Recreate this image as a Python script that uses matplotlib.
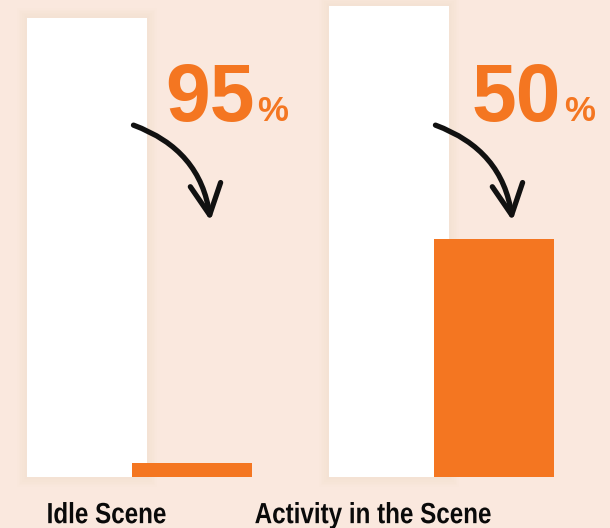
import matplotlib
matplotlib.use("Agg")
import matplotlib.pyplot as plt
import numpy as np
from matplotlib.textpath import TextPath
from matplotlib.patches import PathPatch
from matplotlib.font_manager import FontProperties
import matplotlib.transforms as mtransforms

categories = ["Idle Scene", "Activity in the Scene"]
baseline_values = [97.5, 100.0]
reduced_values = [3.0, 50.5]
reduction_labels = ["95", "50"]

BG = "#FAE8DE"
ORANGE = "#F47621"

fig = plt.figure(figsize=(6.10, 5.28), dpi=100, facecolor=BG)
ax = fig.add_axes([0, 0, 1, 1])
ax.set_facecolor(BG)
ax.set_xlim(-0.462, 1.558)
ax.set_ylim(-10.83, 101.27)
ax.axis("off")

x = np.arange(len(categories))
off = 0.174
w = 0.397

# soft shadow around white bars
for xi, v in zip(x, baseline_values):
    for k in range(1, 7):
        pad_x = k * 0.0055
        pad_y = k * 0.35
        ax.add_patch(plt.Rectangle((xi - off - w / 2 - pad_x, -pad_y), w + 2 * pad_x, v + 2 * pad_y,
                                   facecolor="#d9b7a3", edgecolor="none", alpha=0.02, zorder=1))

ax.bar(x - off, baseline_values, width=w, color="white", zorder=2)
ax.bar(x + off, reduced_values, width=w, color=ORANGE, zorder=3)

fig.canvas.draw()
renderer = fig.canvas.get_renderer()

num_dx = [0.084, 0.101]
num_y = 75.6
for xi, lab, dx in zip(x, reduction_labels, num_dx):
    t = ax.text(xi + dx, num_y, lab, color=ORANGE, fontsize=58, fontweight="bold",
                family=["Liberation Sans", "DejaVu Sans"], ha="left", va="baseline", zorder=5)
    bb = t.get_window_extent(renderer=renderer)
    px_right = bb.x1 + 3
    xr = ax.transData.inverted().transform((px_right, 0))[0]
    ax.text(xr, num_y, "%", color=ORANGE, fontsize=25, fontweight="bold",
            family=["Liberation Sans", "DejaVu Sans"], ha="left", va="baseline", zorder=5)
    ax.annotate("", xy=(xi + 0.235, 54.4), xytext=(xi - 0.02, 74.7),
                arrowprops=dict(arrowstyle="->,head_length=1.1,head_width=0.55", lw=3.8,
                                color="#111111", connectionstyle="arc3,rad=-0.3",
                                shrinkA=0, shrinkB=0, mutation_scale=20,
                                capstyle="round", joinstyle="round"), zorder=6)

label_dx = [-0.108, -0.227]
fp = FontProperties(family="Liberation Sans", weight="bold", size=21)
for xi, lab, dx in zip(x, categories, label_dx):
    tp = TextPath((0, 0), lab, prop=fp)
    ext = tp.get_extents()
    cx, cy = ax.transData.transform((xi + dx, -9.8))
    tr = (mtransforms.Affine2D()
          .translate(-(ext.x0 + ext.x1) / 2, 0)
          .scale(0.83 * fig.dpi / 72, fig.dpi / 72)
          .translate(cx, cy))
    ax.add_patch(PathPatch(tp, transform=tr, facecolor="#0a0a0a", edgecolor="none",
                           clip_on=False, zorder=5))

fig.savefig("out.png", dpi=100, facecolor=BG)
